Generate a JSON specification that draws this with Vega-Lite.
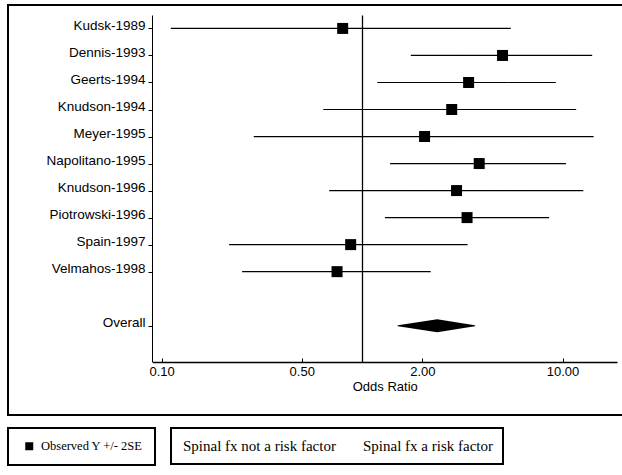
{
  "$schema": "https://vega.github.io/schema/vega-lite/v6.json",
  "width": 617,
  "height": 410,
  "autosize": {"type": "none"},
  "padding": {"left": 8, "top": 5, "right": 0, "bottom": 60},
  "background": "white",
  "config": {
    "view": {"stroke": "black", "strokeWidth": 2},
    "legend": {"strokeWidth": 2},
    "axis": {
      "domainColor": "black",
      "tickColor": "black",
      "labelColor": "black",
      "titleColor": "black",
      "labelFont": "Liberation Sans",
      "titleFont": "Liberation Sans",
      "grid": false
    }
  },
  "resolve": {"axis": {"x": "independent"}},
  "data": {
    "values": [
      {"study": "Kudsk-1989", "or": 0.80, "lo": 0.111, "hi": 5.52},
      {"study": "Dennis-1993", "or": 5.02, "lo": 1.75, "hi": 14.06},
      {"study": "Geerts-1994", "or": 3.40, "lo": 1.19, "hi": 9.26},
      {"study": "Knudson-1994", "or": 2.80, "lo": 0.64, "hi": 11.7},
      {"study": "Meyer-1995", "or": 2.05, "lo": 0.288, "hi": 14.3},
      {"study": "Napolitano-1995", "or": 3.84, "lo": 1.38, "hi": 10.4},
      {"study": "Knudson-1996", "or": 2.96, "lo": 0.685, "hi": 12.7},
      {"study": "Piotrowski-1996", "or": 3.34, "lo": 1.30, "hi": 8.57},
      {"study": "Spain-1997", "or": 0.877, "lo": 0.217, "hi": 3.36},
      {"study": "Velmahos-1998", "or": 0.75, "lo": 0.252, "hi": 2.20},
      {"study": "Overall", "or": 2.37, "lo": 1.51, "hi": 3.65}
    ]
  },
  "layer": [
    {
      "transform": [{"filter": "datum.study !== 'Overall'"}],
      "mark": {"type": "rule", "color": "black", "strokeWidth": 1.2},
      "encoding": {
        "y": {
          "field": "study",
          "type": "nominal",
          "title": null,
          "scale": {
            "type": "point",
            "domain": ["Kudsk-1989", "Dennis-1993", "Geerts-1994", "Knudson-1994", "Meyer-1995", "Napolitano-1995", "Knudson-1996", "Piotrowski-1996", "Spain-1997", "Velmahos-1998", " ", "Overall"],
            "range": [10, 357],
            "padding": 0.92,
            "align": 0.27
          },
          "axis": {
            "values": ["Kudsk-1989", "Dennis-1993", "Geerts-1994", "Knudson-1994", "Meyer-1995", "Napolitano-1995", "Knudson-1996", "Piotrowski-1996", "Spain-1997", "Velmahos-1998", "Overall"],
            "offset": -144,
            "title": null,
            "labelFontSize": 13.5,
            "labelPadding": 3,
            "labelOffset": -3,
            "labelLimit": 300,
            "tickSize": 4,
            "tickWidth": 1,
            "domainWidth": 1
          }
        },
        "x": {
          "field": "lo",
          "type": "quantitative",
          "title": "Odds Ratio",
          "scale": {"type": "log", "domain": [0.09, 18.7], "range": [144.5, 609], "nice": false},
          "axis": {
            "orient": "bottom",
            "values": [0.1, 0.5, 2, 10],
            "format": ".2f",
            "offset": -53,
            "grid": false,
            "tickSize": -4,
            "tickWidth": 1,
            "labelPadding": 7,
            "labelFlush": false,
            "labelFontSize": 13,
            "titleFontSize": 13,
            "titleFontWeight": "normal",
            "titlePadding": 2,
            "domainWidth": 1.3
          }
        },
        "x2": {"field": "hi"},
        "strokeDash": {
          "datum": "Spinal fx a risk factor",
          "scale": {"domain": ["Spinal fx not a risk factor", "Spinal fx a risk factor"], "range": [[1, 0], [1, 0]]},
          "legend": {
            "orient": "none",
            "legendX": 163,
            "legendY": 423,
            "title": null,
            "direction": "horizontal",
            "symbolSize": 0,
            "symbolOpacity": 0,
            "symbolStrokeWidth": 0,
            "labelOffset": -13,
            "columnPadding": 25,
            "labelFont": "Liberation Serif",
            "labelFontSize": 15,
            "labelColor": "black",
            "labelLimit": 400,
            "strokeColor": "black",
            "padding": 10
          }
        }
      }
    },
    {
      "transform": [{"filter": "datum.study !== 'Overall'"}],
      "mark": {"type": "point", "shape": "square", "filled": true, "size": 121, "opacity": 1},
      "encoding": {
        "y": {"field": "study", "type": "nominal", "title": null},
        "x": {
          "field": "or",
          "type": "quantitative",
          "title": null,
          "axis": {
            "orient": "top",
            "values": [1],
            "grid": true,
            "gridColor": "black",
            "gridWidth": 1.3,
            "gridOpacity": 1,
            "domain": false,
            "ticks": false,
            "labels": false,
            "title": null
          }
        },
        "color": {
          "datum": "Observed Y +/- 2SE",
          "scale": {"range": ["black"]},
          "legend": {
            "orient": "none",
            "legendX": 0,
            "legendY": 423,
            "title": null,
            "symbolType": "square",
            "symbolSize": 64,
            "symbolFillColor": "black",
            "symbolStrokeWidth": 0,
            "symbolOffset": 3,
            "labelOffset": 5.5,
            "labelFont": "Liberation Serif",
            "labelFontSize": 12.5,
            "labelColor": "black",
            "labelLimit": 300,
            "strokeColor": "black",
            "padding": 12
          }
        }
      }
    },
    {
      "transform": [
        {"filter": "datum.study === 'Overall'"},
        {"fold": ["lo", "or", "hi"], "as": ["key", "value"]}
      ],
      "mark": {"type": "trail", "color": "black"},
      "encoding": {
        "y": {"field": "study", "type": "nominal", "title": null},
        "x": {"field": "value", "type": "quantitative", "title": null, "axis": null},
        "size": {"condition": {"test": "datum.key === 'or'", "value": 13}, "value": 0}
      }
    }
  ]
}
